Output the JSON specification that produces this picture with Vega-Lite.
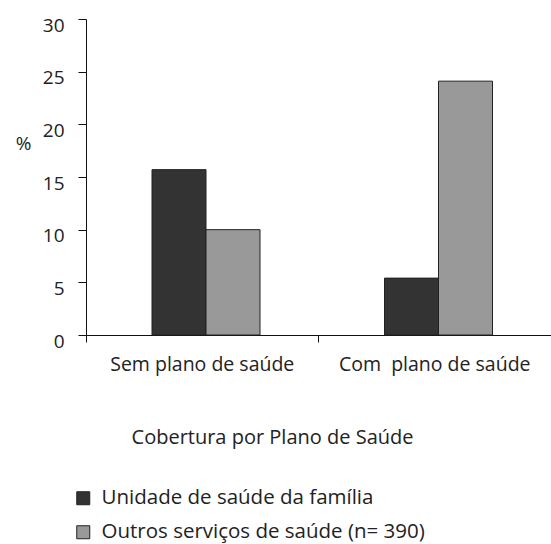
{
  "$schema": "https://vega.github.io/schema/vega-lite/v6.json",
  "width": 465,
  "height": 316,
  "autosize": {"type": "none"},
  "padding": {"left": 86, "top": 19, "right": 0, "bottom": 209},
  "config": {
    "view": {"stroke": null},
    "font": "Open Sans",
    "axis": {"grid": false, "domainColor": "#111", "tickColor": "#111", "labelColor": "#222", "titleColor": "#222"}
  },
  "data": {
    "values": [
      {"cobertura": "Sem plano de saúde", "servico": "Unidade de saúde da família", "pct": 15.7},
      {"cobertura": "Sem plano de saúde", "servico": "Outros serviços de saúde (n= 390)", "pct": 10.0},
      {"cobertura": "Com\u00a0 plano de saúde", "servico": "Unidade de saúde da família", "pct": 5.4},
      {"cobertura": "Com\u00a0 plano de saúde", "servico": "Outros serviços de saúde (n= 390)", "pct": 24.1}
    ]
  },
  "mark": {"type": "bar", "stroke": "#222", "strokeWidth": 1},
  "encoding": {
    "x": {
      "field": "cobertura",
      "type": "nominal",
      "sort": null,
      "scale": {"paddingInner": 0, "paddingOuter": 0},
      "axis": {
        "labelAngle": 0,
        "tickSize": 7,
        "bandPosition": 0,
        "labelFontSize": 19.5,
        "labelPadding": 13,
        "labelLimit": 300,
        "title": "Cobertura por Plano de Saúde",
        "titleFontSize": 20,
        "titleFontWeight": "normal",
        "titleX": 186,
        "titleY": 108,
        "titleAlign": "center",
        "titleBaseline": "alphabetic"
      }
    },
    "xOffset": {
      "field": "servico",
      "type": "nominal",
      "sort": null,
      "scale": {"range": [66, 174], "paddingInner": 0, "paddingOuter": 0}
    },
    "y": {
      "field": "pct",
      "type": "quantitative",
      "scale": {"domain": [0, 30], "nice": false},
      "axis": {
        "values": [0, 5, 10, 15, 20, 25, 30],
        "tickSize": 8,
        "labelFontSize": 19,
        "labelPadding": 14,
        "labelOffset": 6,
        "title": "%",
        "titleAngle": 0,
        "titleFontSize": 19,
        "titleFontWeight": "normal",
        "titleX": -63,
        "titleY": 124,
        "titleAlign": "center",
        "titleBaseline": "middle"
      }
    },
    "color": {
      "field": "servico",
      "type": "nominal",
      "sort": null,
      "scale": {"range": ["#333333", "#999999"]},
      "legend": {
        "orient": "none",
        "legendX": -13,
        "legendY": 469,
        "title": null,
        "padding": 0,
        "symbolType": "square",
        "symbolSize": 169,
        "symbolStrokeColor": "#222",
        "symbolStrokeWidth": 1,
        "symbolOpacity": 1,
        "labelFontSize": 20.5,
        "labelOffset": 8,
        "labelColor": "#222",
        "rowPadding": 13,
        "labelLimit": 400
      }
    }
  }
}
